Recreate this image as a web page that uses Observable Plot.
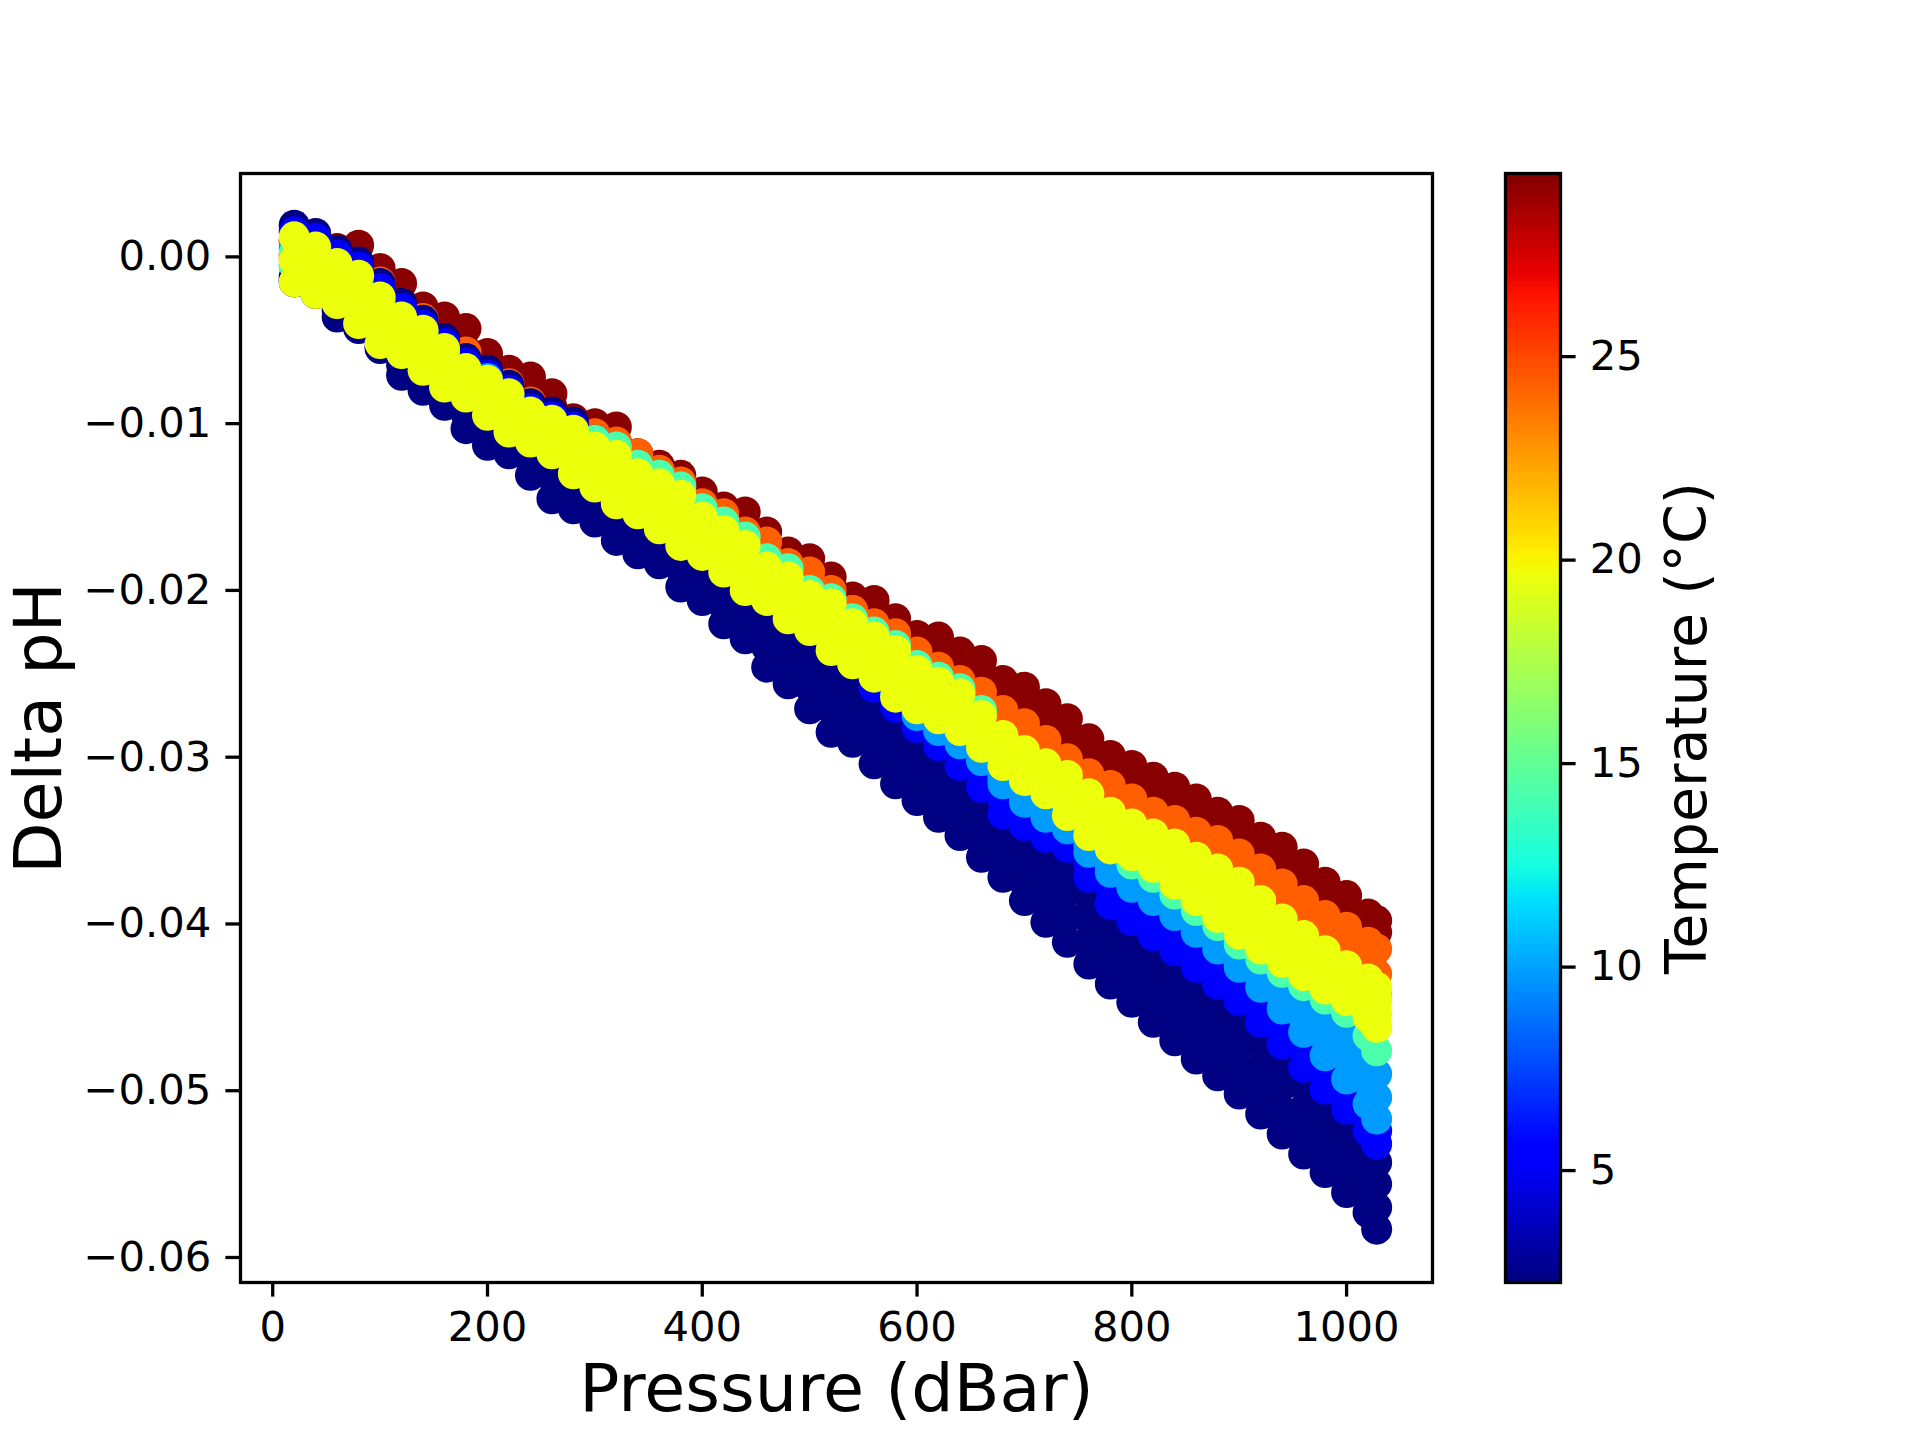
<!DOCTYPE html>
<html>
<head>
<meta charset="utf-8">
<script src="https://cdn.jsdelivr.net/npm/d3@7"></script>
<script src="https://cdn.jsdelivr.net/npm/@observablehq/plot@0.6"></script>
<style>
html, body { margin: 0; padding: 0; background: #fff; }
#wrap { position: relative; width: 1920px; height: 1440px; background: #fff; }
#wrap svg { position: absolute; top: 0; }
</style>
</head>
<body>
<div id="wrap"></div>
<script>
// ---------------- data ----------------
const pressure = [20,40,60,80,100,120,140,160,180,200,220,240,260,280,300,320,340,360,380,400,420,440,460,480,500,520,540,560,580,600,620,640,660,680,700,720,740,760,780,800,820,840,860,880,900,920,940,960,980,1000,1020,1028];
const pressureDeep = [680,700,720,740,760,780,800,820,840,860,880,900,920,940,960,980,1000,1020,1028];

const tempDarkRed = 29.3, tempOrange = 24.3, tempYellow = 19.6, tempAqua = 14.3, tempLightBlue = 9.8, tempBlue = 5.4, tempNavy = 2.3;

const darkRedUpper = [0.0010,0.0010,0.0005,0.0007,-0.0007,-0.0016,-0.0030,-0.0036,-0.0043,-0.0058,-0.0068,-0.0072,-0.0082,-0.0097,-0.0100,-0.0102,-0.0118,-0.0125,-0.0131,-0.0141,-0.0150,-0.0153,-0.0165,-0.0177,-0.0181,-0.0192,-0.0204,-0.0206,-0.0217,-0.0227,-0.0228,-0.0237,-0.0242,-0.0254,-0.0258,-0.0268,-0.0277,-0.0289,-0.0299,-0.0305,-0.0312,-0.0318,-0.0325,-0.0333,-0.0338,-0.0348,-0.0354,-0.0364,-0.0375,-0.0383,-0.0394,-0.0398];
const darkRedLower = [0.0001,0.0002,0.0002,-0.0004,-0.0012,-0.0027,-0.0032,-0.0044,-0.0056,-0.0061,-0.0072,-0.0081,-0.0090,-0.0105,-0.0106,-0.0111,-0.0124,-0.0131,-0.0138,-0.0145,-0.0154,-0.0167,-0.0172,-0.0179,-0.0191,-0.0197,-0.0211,-0.0216,-0.0222,-0.0232,-0.0234,-0.0245,-0.0252,-0.0261,-0.0266,-0.0274,-0.0285,-0.0295,-0.0307,-0.0312,-0.0320,-0.0325,-0.0333,-0.0339,-0.0347,-0.0354,-0.0362,-0.0371,-0.0381,-0.0391,-0.0400,-0.0405];
const orangeUpper = [-0.0001,-0.0005,-0.0004,-0.0009,-0.0015,-0.0030,-0.0037,-0.0051,-0.0057,-0.0070,-0.0076,-0.0087,-0.0095,-0.0108,-0.0108,-0.0113,-0.0118,-0.0131,-0.0137,-0.0150,-0.0154,-0.0166,-0.0171,-0.0184,-0.0189,-0.0206,-0.0212,-0.0223,-0.0226,-0.0237,-0.0246,-0.0257,-0.0261,-0.0272,-0.0280,-0.0290,-0.0301,-0.0310,-0.0317,-0.0325,-0.0333,-0.0338,-0.0345,-0.0350,-0.0358,-0.0367,-0.0376,-0.0386,-0.0395,-0.0402,-0.0411,-0.0415];
const orangeLower = [0.0009,0.0003,-0.0007,-0.0014,-0.0027,-0.0039,-0.0047,-0.0058,-0.0070,-0.0077,-0.0085,-0.0096,-0.0101,-0.0107,-0.0106,-0.0111,-0.0122,-0.0128,-0.0135,-0.0148,-0.0156,-0.0165,-0.0178,-0.0184,-0.0195,-0.0200,-0.0212,-0.0220,-0.0228,-0.0240,-0.0247,-0.0254,-0.0267,-0.0279,-0.0288,-0.0296,-0.0303,-0.0314,-0.0325,-0.0332,-0.0338,-0.0344,-0.0352,-0.0359,-0.0367,-0.0378,-0.0389,-0.0399,-0.0408,-0.0417,-0.0425,-0.0430];
const navy1 = [0.0019,0.0014,0.0004,-0.0003,-0.0016,-0.0028,-0.0038,-0.0049,-0.0061,-0.0068,-0.0077,-0.0088,-0.0093,-0.0099,-0.0122,-0.0132,-0.0142,-0.0153,-0.0165,-0.0176,-0.0188,-0.0199,-0.0210,-0.0222,-0.0233,-0.0244,-0.0255,-0.0266,-0.0280,-0.0293,-0.0304,-0.0316,-0.0329,-0.0345,-0.0352,-0.0359,-0.0365,-0.0383,-0.0399,-0.0409,-0.0418,-0.0427,-0.0437,-0.0447,-0.0457,-0.0470,-0.0483,-0.0497,-0.0510,-0.0522,-0.0535,-0.0543];
const navy2 = [-0.0012,-0.0019,-0.0025,-0.0037,-0.0049,-0.0055,-0.0065,-0.0075,-0.0081,-0.0092,-0.0102,-0.0108,-0.0115,-0.0127,-0.0134,-0.0145,-0.0154,-0.0163,-0.0176,-0.0186,-0.0199,-0.0209,-0.0222,-0.0233,-0.0246,-0.0258,-0.0267,-0.0279,-0.0292,-0.0304,-0.0315,-0.0326,-0.0339,-0.0354,-0.0363,-0.0372,-0.0380,-0.0397,-0.0411,-0.0422,-0.0432,-0.0441,-0.0452,-0.0462,-0.0472,-0.0485,-0.0497,-0.0511,-0.0523,-0.0535,-0.0548,-0.0556];
const navy3 = [-0.0015,-0.0022,-0.0032,-0.0042,-0.0054,-0.0065,-0.0074,-0.0084,-0.0094,-0.0104,-0.0112,-0.0121,-0.0132,-0.0141,-0.0147,-0.0157,-0.0166,-0.0174,-0.0187,-0.0196,-0.0209,-0.0219,-0.0234,-0.0245,-0.0258,-0.0271,-0.0279,-0.0291,-0.0304,-0.0315,-0.0325,-0.0337,-0.0350,-0.0363,-0.0375,-0.0386,-0.0396,-0.0410,-0.0424,-0.0434,-0.0445,-0.0456,-0.0466,-0.0476,-0.0487,-0.0499,-0.0512,-0.0524,-0.0536,-0.0548,-0.0560,-0.0570];
const navy4 = [-0.0014,-0.0021,-0.0036,-0.0043,-0.0055,-0.0071,-0.0080,-0.0089,-0.0103,-0.0113,-0.0118,-0.0131,-0.0145,-0.0151,-0.0159,-0.0170,-0.0178,-0.0184,-0.0198,-0.0206,-0.0220,-0.0229,-0.0246,-0.0256,-0.0271,-0.0285,-0.0291,-0.0304,-0.0316,-0.0326,-0.0336,-0.0347,-0.0360,-0.0372,-0.0386,-0.0399,-0.0411,-0.0424,-0.0436,-0.0447,-0.0459,-0.0470,-0.0481,-0.0491,-0.0502,-0.0514,-0.0526,-0.0538,-0.0549,-0.0561,-0.0573,-0.0583];
const blue1 = [0.0015,0.0011,0.0001,-0.0006,-0.0019,-0.0031,-0.0041,-0.0052,-0.0064,-0.0071,-0.0080,-0.0091,-0.0096,-0.0102,-0.0110,-0.0119,-0.0130,-0.0140,-0.0150,-0.0161,-0.0171,-0.0181,-0.0192,-0.0203,-0.0214,-0.0228,-0.0242,-0.0258,-0.0270,-0.0282,-0.0293,-0.0305,-0.0318,-0.0334,-0.0341,-0.0348,-0.0354,-0.0372,-0.0388,-0.0398,-0.0407,-0.0416,-0.0426,-0.0436,-0.0446,-0.0459,-0.0472,-0.0486,-0.0499,-0.0511,-0.0524,-0.0532];
const blue2Deep = [-0.0325,-0.0334,-0.0342,-0.0348,-0.0364,-0.0378,-0.0388,-0.0397,-0.0405,-0.0415,-0.0425,-0.0436,-0.0448,-0.0461,-0.0475,-0.0489,-0.0502,-0.0516,-0.0524];
const lightBlue1 = [0.0005,0.0004,-0.0005,-0.0012,-0.0025,-0.0037,-0.0045,-0.0056,-0.0068,-0.0073,-0.0083,-0.0094,-0.0099,-0.0105,-0.0111,-0.0119,-0.0128,-0.0138,-0.0148,-0.0158,-0.0168,-0.0178,-0.0188,-0.0198,-0.0208,-0.0218,-0.0228,-0.0240,-0.0251,-0.0263,-0.0276,-0.0286,-0.0297,-0.0310,-0.0320,-0.0329,-0.0338,-0.0350,-0.0361,-0.0370,-0.0379,-0.0388,-0.0398,-0.0408,-0.0419,-0.0428,-0.0437,-0.0446,-0.0456,-0.0466,-0.0481,-0.0490];
const lightBlue2 = [-0.0005,-0.0010,-0.0018,-0.0026,-0.0036,-0.0046,-0.0056,-0.0066,-0.0076,-0.0085,-0.0092,-0.0100,-0.0108,-0.0114,-0.0122,-0.0131,-0.0140,-0.0150,-0.0160,-0.0170,-0.0180,-0.0190,-0.0200,-0.0210,-0.0220,-0.0230,-0.0240,-0.0250,-0.0262,-0.0275,-0.0284,-0.0292,-0.0302,-0.0316,-0.0327,-0.0336,-0.0343,-0.0357,-0.0369,-0.0378,-0.0386,-0.0395,-0.0405,-0.0415,-0.0426,-0.0438,-0.0451,-0.0465,-0.0479,-0.0493,-0.0508,-0.0517];
const lightBlue3Deep = [-0.0313,-0.0323,-0.0332,-0.0340,-0.0353,-0.0365,-0.0374,-0.0383,-0.0392,-0.0402,-0.0412,-0.0423,-0.0433,-0.0444,-0.0456,-0.0468,-0.0480,-0.0495,-0.0504];
const aqua1 = [0.0002,-0.0004,-0.0010,-0.0018,-0.0028,-0.0038,-0.0048,-0.0058,-0.0068,-0.0078,-0.0086,-0.0095,-0.0101,-0.0107,-0.0110,-0.0114,-0.0125,-0.0131,-0.0138,-0.0151,-0.0159,-0.0168,-0.0181,-0.0187,-0.0200,-0.0205,-0.0217,-0.0225,-0.0233,-0.0245,-0.0252,-0.0259,-0.0272,-0.0291,-0.0300,-0.0307,-0.0318,-0.0328,-0.0337,-0.0343,-0.0350,-0.0356,-0.0364,-0.0372,-0.0380,-0.0391,-0.0401,-0.0411,-0.0420,-0.0428,-0.0437,-0.0442];
const aqua2 = [-0.0005,-0.0011,-0.0019,-0.0029,-0.0041,-0.0050,-0.0059,-0.0069,-0.0079,-0.0088,-0.0096,-0.0105,-0.0111,-0.0120,-0.0129,-0.0137,-0.0145,-0.0153,-0.0161,-0.0170,-0.0180,-0.0189,-0.0199,-0.0208,-0.0216,-0.0225,-0.0235,-0.0243,-0.0253,-0.0263,-0.0268,-0.0277,-0.0287,-0.0300,-0.0308,-0.0315,-0.0328,-0.0340,-0.0350,-0.0364,-0.0372,-0.0382,-0.0392,-0.0401,-0.0412,-0.0421,-0.0429,-0.0437,-0.0445,-0.0453,-0.0467,-0.0476];
const yellow1 = [0.0012,0.0006,-0.0004,-0.0011,-0.0024,-0.0036,-0.0044,-0.0055,-0.0067,-0.0074,-0.0082,-0.0093,-0.0098,-0.0104,-0.0114,-0.0119,-0.0130,-0.0136,-0.0143,-0.0156,-0.0164,-0.0173,-0.0186,-0.0192,-0.0203,-0.0208,-0.0220,-0.0228,-0.0236,-0.0248,-0.0255,-0.0262,-0.0275,-0.0287,-0.0296,-0.0304,-0.0311,-0.0322,-0.0333,-0.0340,-0.0346,-0.0352,-0.0360,-0.0367,-0.0375,-0.0386,-0.0397,-0.0407,-0.0416,-0.0425,-0.0433,-0.0438];
const yellow2 = [-0.0002,-0.0008,-0.0016,-0.0026,-0.0038,-0.0047,-0.0056,-0.0066,-0.0076,-0.0085,-0.0093,-0.0102,-0.0108,-0.0117,-0.0126,-0.0134,-0.0142,-0.0150,-0.0158,-0.0167,-0.0177,-0.0186,-0.0196,-0.0205,-0.0213,-0.0222,-0.0232,-0.0240,-0.0250,-0.0260,-0.0266,-0.0273,-0.0284,-0.0293,-0.0302,-0.0310,-0.0319,-0.0330,-0.0340,-0.0346,-0.0353,-0.0360,-0.0369,-0.0377,-0.0385,-0.0396,-0.0406,-0.0415,-0.0424,-0.0432,-0.0441,-0.0446];
const yellow3 = [-0.0015,-0.0022,-0.0028,-0.0040,-0.0052,-0.0058,-0.0068,-0.0078,-0.0084,-0.0095,-0.0105,-0.0111,-0.0118,-0.0130,-0.0138,-0.0148,-0.0154,-0.0163,-0.0173,-0.0179,-0.0189,-0.0200,-0.0206,-0.0217,-0.0224,-0.0236,-0.0244,-0.0252,-0.0264,-0.0271,-0.0277,-0.0284,-0.0294,-0.0305,-0.0314,-0.0322,-0.0335,-0.0347,-0.0355,-0.0359,-0.0366,-0.0376,-0.0386,-0.0396,-0.0406,-0.0415,-0.0423,-0.0431,-0.0439,-0.0446,-0.0456,-0.0462];
const yellow4Deep = [-0.0299,-0.0308,-0.0316,-0.0327,-0.0339,-0.0348,-0.0353,-0.0359,-0.0368,-0.0377,-0.0386,-0.0396,-0.0405,-0.0414,-0.0423,-0.0431,-0.0439,-0.0448,-0.0454];

const xTicks = [0, 200, 400, 600, 800, 1000];
const yTicks = [0, -0.01, -0.02, -0.03, -0.04, -0.05, -0.06];
const colorTicks = [5, 10, 15, 20, 25];
const tempMin = 2.25, tempMax = 29.5;

// matplotlib "jet" colormap breakpoints
const jetStops = [0, 0.11, 0.125, 0.34, 0.35, 0.375, 0.64, 0.65, 0.66, 0.89, 0.91, 1];
const jetColors = ["rgb(0,0,128)","rgb(0,0,255)","rgb(0,0,255)","rgb(0,219,255)","rgb(0,230,247)","rgb(21,255,226)","rgb(239,255,8)","rgb(247,246,0)","rgb(255,236,0)","rgb(255,19,0)","rgb(232,0,0)","rgb(128,0,0)"];

// draw order (first = bottom)
const series = [
  {temp: tempDarkRed, p: pressure, values: darkRedUpper},
  {temp: tempDarkRed, p: pressure, values: darkRedLower},
  {temp: tempOrange, p: pressure, values: orangeUpper},
  {temp: tempOrange, p: pressure, values: orangeLower},
  {temp: tempNavy, p: pressure, values: navy1},
  {temp: tempNavy, p: pressure, values: navy2},
  {temp: tempNavy, p: pressure, values: navy3},
  {temp: tempNavy, p: pressure, values: navy4},
  {temp: tempBlue, p: pressure, values: blue1},
  {temp: tempBlue, p: pressureDeep, values: blue2Deep},
  {temp: tempLightBlue, p: pressure, values: lightBlue1},
  {temp: tempLightBlue, p: pressure, values: lightBlue2},
  {temp: tempLightBlue, p: pressureDeep, values: lightBlue3Deep},
  {temp: tempAqua, p: pressure, values: aqua1},
  {temp: tempAqua, p: pressure, values: aqua2},
  {temp: tempYellow, p: pressure, values: yellow1},
  {temp: tempYellow, p: pressure, values: yellow2},
  {temp: tempYellow, p: pressureDeep, values: yellow4Deep},
  {temp: tempYellow, p: pressure, values: yellow3}
];
const points = series.flatMap(s => s.values.map((v, i) => ({p: s.p[i], dph: v, t: s.temp})));

// ---------------- drawing ----------------
const FONT = "DejaVu Sans";
const colorScale = {
  type: "linear",
  domain: jetStops.map(t => tempMin + t * (tempMax - tempMin)),
  range: jetColors,
  interpolate: "rgb"
};
const baseStyle = {fontFamily: FONT, color: "black", background: "transparent", overflow: "visible"};

const main = Plot.plot({
  width: 1460, height: 1440,
  marginLeft: 240, marginRight: 28, marginTop: 173, marginBottom: 158,
  style: baseStyle,
  x: {domain: [-30, 1080]},
  y: {domain: [-0.0615, 0.0050]},
  color: colorScale,
  marks: [
    Plot.dot(points, {x: "p", y: "dph", fill: "t", r: 15.5}),
    Plot.frame({stroke: "black", strokeWidth: 3.3}),
    Plot.axisX({ticks: xTicks, tickFormat: "d", tickSize: 14.6, tickPadding: 14.6, fontSize: 41.7, strokeWidth: 3.3, label: null}),
    Plot.axisY({ticks: yTicks, tickFormat: ".2f", tickSize: 14.6, tickPadding: 14.6, fontSize: 41.7, strokeWidth: 3.3, label: null}),
    Plot.text(["Delta pH"], {text: d => d, frameAnchor: "left", dx: -180, rotate: -90, lineAnchor: "bottom", textAnchor: "middle", fontSize: 66.7, fill: "black"}),
    Plot.text(["Pressure (dBar)"], {text: d => d, frameAnchor: "bottom", dy: 128, lineAnchor: "bottom", textAnchor: "middle", fontSize: 66.7, fill: "black"})
  ]
});
main.style.left = "0px";

const rampN = 256;
const ramp = d3.range(rampN).map(i => ({
  lo: tempMin + (tempMax - tempMin) * i / rampN,
  hi: tempMin + (tempMax - tempMin) * (i + 1) / rampN,
  mid: tempMin + (tempMax - tempMin) * (i + 0.5) / rampN
}));

const bar = Plot.plot({
  width: 425, height: 1440,
  marginLeft: 10, marginRight: 360, marginTop: 173, marginBottom: 158,
  style: baseStyle,
  y: {domain: [tempMin, tempMax]},
  color: colorScale,
  marks: [
    Plot.rect(ramp, {y1: "lo", y2: "hi", fill: "mid", shapeRendering: "crispEdges"}),
    Plot.frame({stroke: "black", strokeWidth: 3.3}),
    Plot.axisY({anchor: "right", ticks: colorTicks, tickFormat: "d", tickSize: 14.6, tickPadding: 14.6, fontSize: 41.7, strokeWidth: 3.3, label: null}),
    Plot.text(["Temperature (°C)"], {text: d => d, frameAnchor: "right", dx: 145, rotate: -90, lineAnchor: "bottom", textAnchor: "middle", fontSize: 57, fill: "black"})
  ]
});
bar.style.left = "1495px";

const wrap = document.getElementById("wrap");
wrap.appendChild(main);
wrap.appendChild(bar);
</script>
</body>
</html>
